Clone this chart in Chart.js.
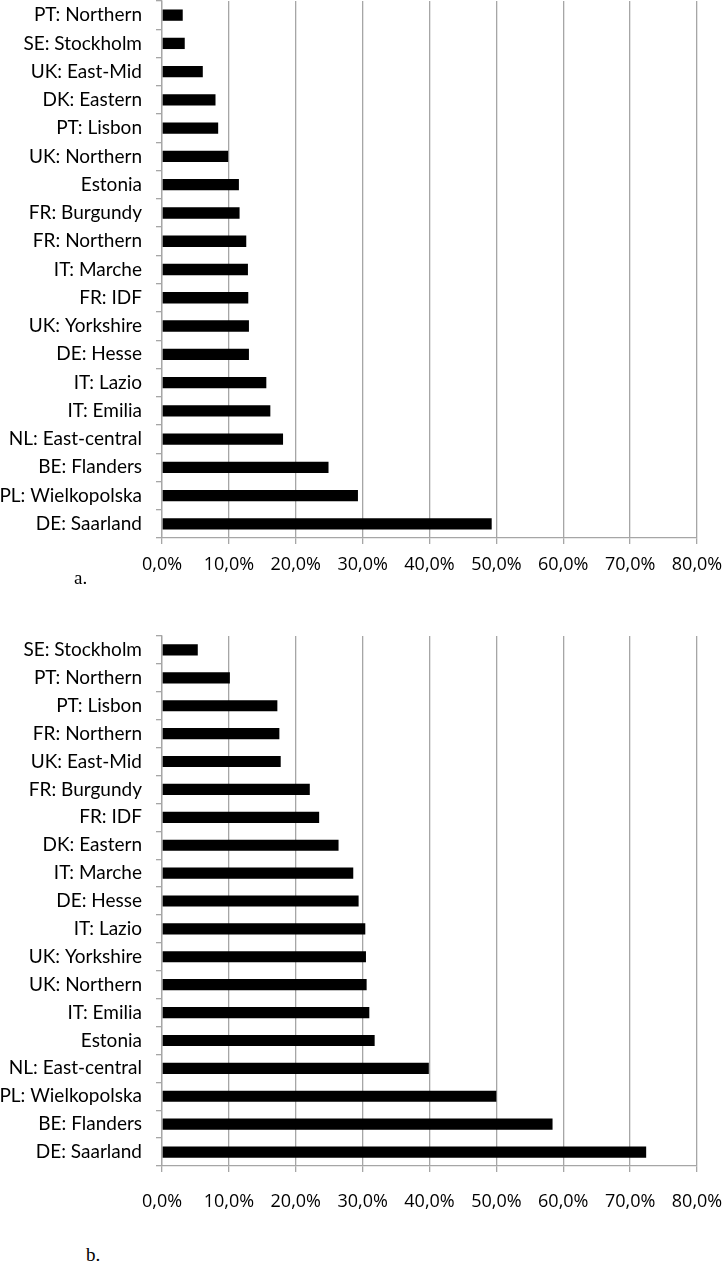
<!DOCTYPE html>
<html>
<head>
<meta charset="utf-8">
<script src="https://cdn.jsdelivr.net/npm/chart.js@4"></script>
<style>
  html, body { margin: 0; padding: 0; background: #fff; }
  body { width: 723px; height: 1274px; position: relative; overflow: hidden; }
  .wrap { position: absolute; left: 0; width: 723px; }
  #wa { top: 0; height: 590px; }
  #wb { top: 630px; height: 590px; }
  .cap { position: absolute; font-family: "Liberation Serif", serif; font-size: 19px; color: #000; }
</style>
</head>
<body>
<div class="wrap" id="wa"><canvas id="ca"></canvas></div>
<div class="wrap" id="wb"><canvas id="cb"></canvas></div>
<div class="cap" style="left:74px; top:567px;">a.</div>
<div class="cap" style="left:86px; top:1244px;">b.</div>
<script>
const categoriesA = ["PT: Northern","SE: Stockholm","UK: East-Mid","DK: Eastern","PT: Lisbon","UK: Northern","Estonia","FR: Burgundy","FR: Northern","IT: Marche","FR: IDF","UK: Yorkshire","DE: Hesse","IT: Lazio","IT: Emilia","NL: East-central","BE: Flanders","PL: Wielkopolska","DE: Saarland"];
const valuesA = [3.1, 3.4, 6.1, 8.0, 8.4, 9.9, 11.5, 11.6, 12.6, 12.85, 12.9, 13.0, 13.0, 15.6, 16.2, 18.1, 24.9, 29.3, 49.3];

const categoriesB = ["SE: Stockholm","PT: Northern","PT: Lisbon","FR: Northern","UK: East-Mid","FR: Burgundy","FR: IDF","DK: Eastern","IT: Marche","DE: Hesse","IT: Lazio","UK: Yorkshire","UK: Northern","IT: Emilia","Estonia","NL: East-central","PL: Wielkopolska","BE: Flanders","DE: Saarland"];
const valuesB = [5.35, 10.15, 17.25, 17.55, 17.75, 22.1, 23.5, 26.4, 28.6, 29.4, 30.4, 30.5, 30.6, 31.0, 31.8, 39.9, 50.0, 58.4, 72.4];

const xTickValues = [0, 10, 20, 30, 40, 50, 60, 70, 80];
const xTickLabels = ["0,0%","10,0%","20,0%","30,0%","40,0%","50,0%","60,0%","70,0%","80,0%"];

const GRID = "#a6a6a6";

function makeChart(id, cats, vals, padTop, xAxisH, xLabelPad) {
  return new Chart(document.getElementById(id), {
    type: 'bar',
    data: {
      labels: cats,
      datasets: [{
        data: vals,
        backgroundColor: '#000',
        borderWidth: 0,
        barPercentage: 0.4,
        categoryPercentage: 1.0
      }]
    },
    options: {
      indexAxis: 'y',
      responsive: true,
      maintainAspectRatio: false,
      animation: false,
      events: [],
      layout: { padding: { top: padTop, right: 26, left: 0, bottom: 0 } },
      plugins: { legend: { display: false }, tooltip: { enabled: false } },
      scales: {
        x: {
          min: 0, max: 80,
          afterBuildTicks: (s) => { s.ticks = xTickValues.map(v => ({ value: v })); },
          afterFit: (s) => { s.height = xAxisH; s.paddingLeft = 0; s.paddingRight = 0; },
          grid: { color: GRID, lineWidth: 1.3, drawTicks: true, tickLength: 6, tickColor: GRID },
          border: { display: true, color: GRID, width: 1.3 },
          ticks: {
            color: '#000',
            font: { family: "'Open Sans', sans-serif", size: 18 },
            padding: xLabelPad,
            maxRotation: 0,
            autoSkip: false,
            callback: (v, i) => xTickLabels[i]
          }
        },
        y: {
          afterFit: (s) => { s.width = 162; s.paddingTop = 0; s.paddingBottom = 0; },
          grid: { offset: true, drawOnChartArea: false, drawTicks: true, tickLength: 6, color: GRID, lineWidth: 1.3 },
          border: { display: true, color: GRID, width: 1.3 },
          ticks: {
            color: '#000',
            font: { family: "Lato, sans-serif", size: 19 },
            padding: 14,
            autoSkip: false
          }
        }
      }
    }
  });
}

makeChart('ca', categoriesA, valuesA, 1, 52, 10);
makeChart('cb', categoriesB, valuesB, 6, 54, 19);
</script>
</body>
</html>
